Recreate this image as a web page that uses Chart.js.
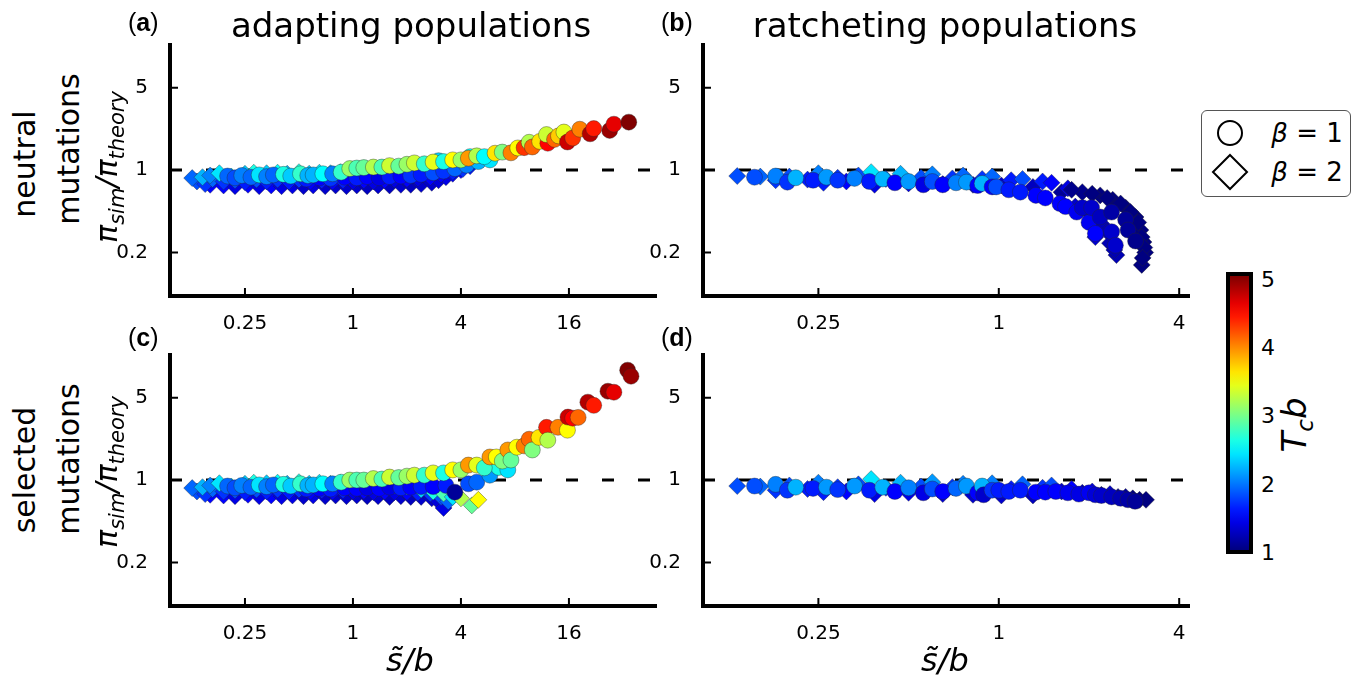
<!DOCTYPE html>
<html>
<head>
<meta charset="utf-8">
<script src="https://cdn.jsdelivr.net/npm/chart.js@4.4.1/dist/chart.umd.min.js"></script>
<style>
  body { margin: 0; width: 1359px; height: 680px; background: #fff; position: relative; overflow: hidden; font-family: "DejaVu Sans", sans-serif; }
  canvas { position: absolute; }
  .lbl { position: absolute; white-space: nowrap; line-height: 1; transform: translate(-50%, -50%); color: #000; }
  .rot { transform: translate(-50%, -50%) rotate(-90deg); }
  .tag { position: absolute; font-family: "Liberation Sans Narrow", "Liberation Sans", sans-serif; font-size: 25px; transform: translateY(-50%); }
  .big { font-size: 34px; }
  .side { font-size: 30px; }
  .pi { font-size: 30px; font-style: italic; }
  .pi sub { font-size: 21px; vertical-align: -0.35em; }
  .cbn { position: absolute; left: 1261px; font-size: 22px; transform: translateY(-50%); line-height: 1; }
</style>
</head>
<body>
<canvas id="pa" width="565" height="306" style="left:100px;top:35px"></canvas>
<canvas id="pb" width="565" height="306" style="left:633px;top:35px"></canvas>
<canvas id="pc" width="565" height="306" style="left:100px;top:345px"></canvas>
<canvas id="pd" width="565" height="306" style="left:633px;top:345px"></canvas>

<div class="tag" style="left:128px;top:22px">(<b>a</b>)</div>
<div class="tag" style="left:661px;top:22px">(<b>b</b>)</div>
<div class="tag" style="left:128px;top:337px">(<b>c</b>)</div>
<div class="tag" style="left:661px;top:337px">(<b>d</b>)</div>
<div class="lbl big" style="left:411px;top:25px">adapting populations</div>
<div class="lbl big" style="left:945px;top:25px">ratcheting populations</div>

<div class="lbl rot side" style="left:25px;top:164px">neutral</div>
<div class="lbl rot side" style="left:69px;top:149px">mutations</div>
<div class="lbl rot pi" style="left:110px;top:167px">π<sub>sim</sub>/π<sub>theory</sub></div>
<div class="lbl rot side" style="left:25px;top:470px">selected</div>
<div class="lbl rot side" style="left:69px;top:459px">mutations</div>
<div class="lbl rot pi" style="left:110px;top:472px">π<sub>sim</sub>/π<sub>theory</sub></div>

<div class="lbl" style="left:410px;top:660px;font-size:32px;font-style:italic">s&#771;/b</div>
<div class="lbl" style="left:945px;top:660px;font-size:32px;font-style:italic">s&#771;/b</div>

<div style="position:absolute;left:1201px;top:110px;width:148px;height:85px;border:1.5px solid #555;border-radius:6px"></div>
<svg style="position:absolute;left:1205px;top:112px" width="50" height="84">
  <circle cx="25" cy="21" r="12" fill="none" stroke="#000" stroke-width="2"/>
  <polygon points="25,43 42,60 25,77 8,60" fill="none" stroke="#000" stroke-width="2"/>
</svg>
<div class="lbl" style="left:1307px;top:133px;font-size:26px"><i>β</i> = 1</div>
<div class="lbl" style="left:1307px;top:172px;font-size:26px"><i>β</i> = 2</div>

<div id="cbar" style="position:absolute;left:1226px;top:272px;width:19px;height:274px;border:4px solid #000"></div>
<div class="cbn" style="top:280px">5</div>
<div class="cbn" style="top:348px">4</div>
<div class="cbn" style="top:416px">3</div>
<div class="cbn" style="top:485px">2</div>
<div class="cbn" style="top:553px">1</div>
<div class="lbl rot" style="left:1297px;top:425px;font-size:34px;font-style:italic">T<sub style="font-size:23px">c</sub>b</div>

<script>
// axis ticks
const xTicksAdapt = [0.25, 1, 4, 16];
const xTicksRatchet = [0.25, 1, 4];
const yTicks = [0.2, 1, 5];

// (a) neutral, adapting - circles (beta = 1)
const aCircX = [0.55, 0.65, 0.75, 0.90, 1.05, 1.20, 1.40, 1.60, 1.85, 2.10, 2.40, 2.80, 3.20, 3.70, 4.30, 5.00, 5.80, 3.00, 4.50,
    0.20, 0.22, 0.24, 0.27, 0.30, 0.33, 0.36, 0.41, 0.45, 0.51, 0.56, 0.60, 0.68, 0.77, 0.86, 0.96, 1.05, 1.15, 1.30, 1.45,
    1.60, 1.80, 2.00, 2.20, 2.50, 2.80, 3.20, 3.60, 4.00, 4.40, 4.90, 5.40, 6.20, 6.80, 7.60, 8.30, 9.00, 9.60, 10.0, 11.0,
    12.2, 12.0, 13.3, 14.0, 15.0, 15.7, 16.8, 18.4, 21.0, 22.0, 27.0, 28.5, 34.5];
const aCircY = [0.84, 0.86, 0.85, 0.87, 0.86, 0.88, 0.86, 0.88, 0.89, 0.90, 0.92, 0.95, 0.98, 1.03, 1.10, 1.18, 1.22, 1.20, 1.30,
    0.89, 0.86, 0.90, 0.87, 0.91, 0.88, 0.91, 0.92, 0.89, 0.93, 0.90, 0.91, 0.93, 0.93, 0.96, 1.03, 1.04, 1.05, 1.06, 1.06,
    1.09, 1.08, 1.12, 1.15, 1.13, 1.17, 1.18, 1.22, 1.22, 1.26, 1.32, 1.30, 1.39, 1.42, 1.40, 1.54, 1.55, 1.72, 1.57, 1.75,
    1.69, 2.00, 1.82, 1.95, 2.10, 1.73, 1.87, 2.22, 2.03, 2.25, 2.17, 2.45, 2.55];
const aCircT = [1.6, 1.5, 1.7, 1.5, 1.6, 1.5, 1.4, 1.6, 1.5, 1.7, 1.6, 1.8, 1.7, 1.9, 2.0, 2.2, 2.4, 2.3, 2.5,
    1.9, 1.8, 2.0, 1.9, 2.4, 2.0, 1.9, 2.6, 2.3, 2.7, 2.2, 2.2, 2.5, 2.0, 2.7, 3.1, 2.8, 2.9, 3.2, 2.8,
    3.3, 2.9, 3.1, 3.3, 2.7, 3.4, 2.6, 3.5, 3.1, 3.9, 3.2, 2.5, 3.6, 3.0, 4.0, 3.5, 4.3, 3.2, 4.1, 3.6,
    4.5, 3.3, 4.1, 3.7, 3.4, 4.7, 4.3, 4.0, 4.8, 4.4, 4.9, 4.6, 5.0];

// (a) neutral, adapting - diamonds (beta = 2)
const aDiamX = [0.16, 0.19, 0.22, 0.26, 0.30, 0.35, 0.40, 0.46, 0.53, 0.60, 0.70, 0.80, 0.92, 1.05, 1.20, 1.38, 1.60, 1.85, 2.10, 2.40, 2.75, 3.00, 3.30, 3.60, 4.00, 4.50,
    0.135, 0.15, 0.165, 0.19, 0.22, 0.25, 0.29, 0.33, 0.38, 0.44, 0.50, 0.58, 0.67, 0.77, 0.88, 1.00, 1.15, 1.30, 1.50, 1.70, 2.00, 2.30, 2.70, 3.10, 3.60, 4.10,
    0.127, 0.145, 0.16, 0.18, 0.21, 0.25, 0.28, 0.33, 0.38, 0.43, 0.50, 0.57, 0.65, 0.75, 0.85, 0.97, 1.10, 1.25, 1.45, 1.70, 2.00, 2.40];
const aDiamY = [0.75, 0.74, 0.73, 0.75, 0.73, 0.74, 0.73, 0.74, 0.73, 0.74, 0.73, 0.74, 0.73, 0.74, 0.73, 0.74, 0.74, 0.75, 0.75, 0.76, 0.78, 0.82, 0.87, 0.93, 1.00, 1.08,
    0.80, 0.76, 0.84, 0.80, 0.82, 0.79, 0.83, 0.80, 0.83, 0.80, 0.83, 0.80, 0.82, 0.80, 0.82, 0.80, 0.82, 0.80, 0.82, 0.83, 0.84, 0.85, 0.87, 0.92, 0.97, 1.02,
    0.855, 0.87, 0.90, 0.94, 0.88, 0.93, 0.95, 0.94, 0.95, 0.93, 0.96, 0.93, 0.95, 0.94, 0.96, 0.95, 0.97, 0.96, 0.98, 0.97, 1.00, 1.02];
const aDiamT = [1.5, 1.5, 1.4, 1.5, 1.4, 1.5, 1.4, 1.4, 1.3, 1.4, 1.3, 1.3, 1.3, 1.3, 1.25, 1.3, 1.25, 1.3, 1.25, 1.3, 1.3, 1.35, 1.4, 1.45, 1.5, 1.6,
    1.8, 1.7, 1.9, 1.7, 1.8, 1.6, 1.8, 1.6, 1.7, 1.6, 1.7, 1.5, 1.6, 1.5, 1.6, 1.4, 1.5, 1.4, 1.5, 1.4, 1.5, 1.4, 1.5, 1.5, 1.6, 1.7,
    1.9, 2.2, 2.0, 2.4, 2.5, 2.3, 2.6, 2.3, 2.5, 2.2, 2.6, 2.3, 2.4, 2.2, 2.5, 2.3, 2.4, 2.1, 2.3, 2.0, 2.2, 2.1];

// (b) neutral, ratcheting
const bCircX = [0.153, 0.18, 0.197, 0.21, 0.24, 0.266, 0.29, 0.33, 0.37, 0.41, 0.45, 0.50, 0.56, 0.60, 0.65, 0.72, 0.78, 0.85, 0.88, 0.95,
    0.98, 1.08, 1.18, 1.33, 1.43, 1.60, 1.67, 1.82, 1.90, 2.00, 2.04, 2.10, 2.18, 2.38, 2.38, 2.45, 2.65, 2.70, 2.86];
const bCircY = [0.87, 0.89, 0.79, 0.86, 0.82, 0.87, 0.82, 0.85, 0.80, 0.84, 0.78, 0.80, 0.75, 0.80, 0.75, 0.78, 0.79, 0.74, 0.77, 0.72,
    0.72, 0.68, 0.65, 0.61, 0.58, 0.52, 0.49, 0.44, 0.48, 0.36, 0.48, 0.29, 0.40, 0.44, 0.30, 0.23, 0.38, 0.31, 0.25];
const bCircT = [1.8, 2.0, 1.7, 2.2, 1.6, 2.1, 1.7, 2.0, 1.6, 2.2, 1.5, 2.1, 1.4, 1.8, 1.5, 2.0, 2.1, 1.5, 2.2, 1.5,
    1.8, 1.6, 1.6, 1.5, 1.5, 1.5, 1.5, 1.45, 1.3, 1.45, 1.3, 1.5, 1.25, 1.15, 1.3, 1.3, 1.1, 1.1, 1.05];
const bDiamX = [0.134, 0.16, 0.18, 0.20, 0.23, 0.25, 0.26, 0.29, 0.31, 0.34, 0.375, 0.385, 0.42, 0.47, 0.50, 0.55, 0.60, 0.65, 0.70, 0.76,
    0.82, 0.88, 0.95, 1.02, 1.10, 1.20, 1.30, 1.40, 1.50, 1.62, 1.70, 1.80, 1.90, 2.00, 2.10, 2.18, 2.40, 2.47, 2.65, 2.86,
    2.97, 3.04, 3.08, 3.00, 1.75, 2.05, 2.30, 2.55, 2.75, 2.92, 3.00, 3.06, 3.02, 2.20, 2.30, 2.35, 2.43];
const bDiamY = [0.89, 0.88, 0.82, 0.88, 0.83, 0.94, 0.78, 0.86, 0.80, 0.90, 0.96, 0.75, 0.84, 0.93, 0.77, 0.86, 0.92, 0.76, 0.85, 0.90,
    0.75, 0.84, 0.88, 0.74, 0.82, 0.84, 0.72, 0.80, 0.78, 0.65, 0.70, 0.49, 0.65, 0.43, 0.27, 0.61, 0.56, 0.19, 0.48, 0.40,
    0.31, 0.245, 0.20, 0.157, 0.68, 0.63, 0.58, 0.52, 0.44, 0.36, 0.27, 0.22, 0.18, 0.35, 0.30, 0.24, 0.21];
const bDiamT = [1.8, 1.9, 1.7, 1.8, 1.6, 2.0, 1.6, 1.7, 1.5, 1.8, 2.4, 1.4, 1.7, 2.2, 1.4, 1.8, 2.0, 1.3, 1.7, 1.9,
    1.3, 1.7, 1.9, 1.3, 1.6, 1.8, 1.25, 1.6, 1.5, 1.1, 1.4, 1.3, 1.05, 1.3, 1.3, 1.0, 1.0, 1.2, 1.0, 1.0,
    1.0, 1.0, 1.0, 1.0, 1.05, 1.0, 1.0, 1.0, 1.0, 1.0, 1.0, 1.0, 1.0, 1.25, 1.25, 1.2, 1.2];

// (c) selected, adapting
const cCircX = [0.55, 0.65, 0.75, 0.90, 1.05, 1.20, 1.40, 1.60, 1.85, 2.10, 2.40, 2.80, 3.30, 3.70, 4.40, 4.90, 5.80, 6.50, 7.30,
    0.20, 0.22, 0.24, 0.27, 0.30, 0.33, 0.36, 0.41, 0.45, 0.51, 0.56, 0.60, 0.68, 0.77, 0.86, 0.96, 1.05, 1.15, 1.30, 1.45,
    1.60, 1.80, 2.00, 2.20, 2.50, 2.80, 3.20, 3.60, 4.00, 4.40, 4.90, 5.40, 5.80, 6.30, 6.80, 7.30, 7.60, 8.20, 9.00, 9.60,
    10.0, 10.9, 12.0, 12.2, 13.9, 15.7, 15.8, 16.8, 18.0, 20.4, 22.0, 26.4, 28.5, 34.0, 35.5];
const cCircY = [0.84, 0.85, 0.84, 0.86, 0.85, 0.86, 0.85, 0.87, 0.86, 0.87, 0.88, 0.88, 0.90, 0.79, 0.93, 0.96, 1.10, 1.28, 1.22,
    0.89, 0.86, 0.90, 0.87, 0.91, 0.88, 0.91, 0.92, 0.89, 0.93, 0.90, 0.91, 0.93, 0.93, 0.96, 1.00, 1.00, 1.00, 1.03, 1.02,
    1.06, 1.05, 1.08, 1.10, 1.10, 1.15, 1.15, 1.22, 1.22, 1.34, 1.34, 1.27, 1.57, 1.57, 1.45, 1.80, 1.48, 1.90, 1.95, 2.22,
    1.80, 2.30, 2.80, 2.18, 2.80, 2.65, 3.42, 3.35, 3.40, 4.58, 4.30, 5.67, 5.56, 8.55, 7.60];
const cCircT = [1.6, 1.5, 1.6, 1.5, 1.5, 1.4, 1.5, 1.4, 1.6, 1.5, 1.6, 1.5, 1.6, 1.1, 1.8, 1.9, 2.1, 2.6, 2.4,
    1.9, 1.8, 2.0, 1.9, 2.4, 2.0, 1.9, 2.6, 2.3, 2.7, 2.2, 2.2, 2.5, 2.0, 2.7, 3.1, 2.8, 2.9, 3.2, 2.8,
    3.3, 2.9, 3.1, 3.3, 2.7, 3.4, 2.6, 3.5, 3.1, 3.9, 3.4, 2.7, 3.9, 3.5, 3.0, 3.9, 2.9, 3.5, 4.0, 4.1,
    3.0, 3.6, 4.4, 3.2, 4.0, 3.5, 4.7, 4.5, 4.1, 4.8, 4.4, 4.9, 4.6, 5.0, 4.9];
const cDiamX = [0.16, 0.19, 0.22, 0.26, 0.30, 0.35, 0.40, 0.46, 0.53, 0.60, 0.70, 0.80, 0.92, 1.05, 1.20, 1.38, 1.60, 1.85, 2.10, 2.40, 2.75, 3.00, 3.20,
    0.135, 0.15, 0.165, 0.19, 0.22, 0.25, 0.29, 0.33, 0.38, 0.44, 0.50, 0.58, 0.67, 0.77, 0.88, 1.00, 1.15, 1.30, 1.50, 1.70, 2.00, 2.30, 2.70, 3.10, 3.40,
    0.127, 0.145, 0.16, 0.18, 0.21, 0.25, 0.28, 0.33, 0.38, 0.43, 0.50, 0.57, 0.65, 0.75, 0.85, 0.97, 1.10, 1.25, 1.45, 1.70, 2.00, 2.40, 2.80, 3.20, 3.60, 4.00, 4.60, 5.00];
const cDiamY = [0.75, 0.74, 0.73, 0.75, 0.73, 0.74, 0.73, 0.74, 0.73, 0.74, 0.73, 0.74, 0.73, 0.74, 0.73, 0.73, 0.72, 0.73, 0.72, 0.72, 0.70, 0.66, 0.58,
    0.80, 0.76, 0.84, 0.80, 0.82, 0.79, 0.83, 0.80, 0.83, 0.80, 0.83, 0.80, 0.82, 0.80, 0.82, 0.80, 0.81, 0.79, 0.80, 0.79, 0.79, 0.78, 0.77, 0.72, 0.66,
    0.855, 0.87, 0.90, 0.94, 0.88, 0.93, 0.95, 0.94, 0.95, 0.93, 0.96, 0.93, 0.95, 0.93, 0.95, 0.93, 0.95, 0.92, 0.93, 0.90, 0.88, 0.83, 0.80, 0.77, 0.72, 0.70, 0.61, 0.68];
const cDiamT = [1.5, 1.5, 1.4, 1.5, 1.4, 1.5, 1.4, 1.4, 1.3, 1.4, 1.3, 1.3, 1.3, 1.3, 1.25, 1.3, 1.25, 1.3, 1.25, 1.3, 1.3, 1.35, 1.4,
    1.8, 1.7, 1.9, 1.7, 1.8, 1.6, 1.8, 1.6, 1.7, 1.6, 1.7, 1.5, 1.6, 1.5, 1.6, 1.4, 1.5, 1.4, 1.5, 1.4, 1.5, 1.6, 1.7, 1.8, 1.9,
    1.9, 2.2, 2.0, 2.4, 2.5, 2.3, 2.6, 2.3, 2.5, 2.2, 2.6, 2.3, 2.4, 2.2, 2.5, 2.3, 2.4, 2.1, 2.3, 2.0, 2.2, 2.3, 2.6, 2.8, 2.4, 3.2, 2.9, 3.5];

// (d) selected, ratcheting
const dCircX = [0.153, 0.18, 0.197, 0.21, 0.24, 0.266, 0.29, 0.33, 0.37, 0.41, 0.45, 0.50, 0.56, 0.60, 0.65, 0.72, 0.78, 0.85, 0.88, 0.89,
    0.95, 1.00, 1.08, 1.18, 1.33, 1.43, 1.55, 1.70, 1.85, 2.00, 2.10, 2.20, 2.38, 2.55, 2.70, 2.85];
const dCircY = [0.89, 0.92, 0.82, 0.87, 0.85, 0.87, 0.83, 0.89, 0.82, 0.87, 0.80, 0.86, 0.78, 0.84, 0.80, 0.85, 0.89, 0.78, 0.89, 0.75,
    0.82, 0.82, 0.80, 0.82, 0.79, 0.79, 0.80, 0.78, 0.76, 0.78, 0.75, 0.74, 0.72, 0.70, 0.68, 0.66];
const dCircT = [1.8, 2.0, 1.7, 2.2, 1.6, 2.1, 1.7, 2.1, 1.6, 2.2, 1.5, 2.0, 1.4, 1.8, 1.5, 1.9, 2.1, 1.5, 2.2, 1.3,
    1.7, 1.6, 1.6, 1.6, 1.5, 1.5, 1.5, 1.45, 1.4, 1.45, 1.35, 1.3, 1.25, 1.2, 1.15, 1.1];
const dDiamX = [0.134, 0.16, 0.18, 0.20, 0.23, 0.25, 0.26, 0.29, 0.31, 0.34, 0.375, 0.385, 0.42, 0.47, 0.50, 0.55, 0.60, 0.65, 0.70, 0.76,
    0.82, 0.88, 0.95, 1.02, 1.10, 1.20, 1.30, 1.40, 1.50, 1.62, 1.75, 1.90, 2.05, 2.20, 2.35, 2.50, 2.65, 2.80, 2.95, 3.10];
const dDiamY = [0.89, 0.88, 0.82, 0.90, 0.84, 0.95, 0.79, 0.87, 0.80, 0.92, 1.02, 0.76, 0.86, 0.95, 0.78, 0.88, 0.96, 0.76, 0.87, 0.93,
    0.75, 0.86, 0.94, 0.74, 0.84, 0.92, 0.74, 0.86, 0.90, 0.80, 0.84, 0.78, 0.80, 0.75, 0.76, 0.72, 0.72, 0.70, 0.68, 0.68];
const dDiamT = [1.8, 1.9, 1.7, 1.8, 1.6, 2.0, 1.6, 1.7, 1.5, 1.8, 2.4, 1.4, 1.7, 2.2, 1.4, 1.8, 2.1, 1.3, 1.7, 2.0,
    1.3, 1.7, 2.0, 1.3, 1.6, 1.9, 1.25, 1.7, 1.8, 1.3, 1.5, 1.2, 1.4, 1.1, 1.3, 1.05, 1.1, 1.0, 1.0, 1.0];

// jet colormap for Tc*b in [1, 5]
function jet(t) {
    const v = Math.min(1, Math.max(0, (t - 1) / 4));
    const c = f => Math.round(255 * Math.min(1, Math.max(0, f)));
    const r = c(Math.min(4 * v - 1.5, -4 * v + 4.5));
    const g = c(Math.min(4 * v - 0.5, -4 * v + 3.5));
    const b = c(Math.min(4 * v + 0.5, -4 * v + 2.5));
    return `rgb(${r},${g},${b})`;
}

// colorbar
const stops = [];
for (let i = 0; i <= 20; i++) stops.push(jet(1 + 4 * i / 20) + ' ' + (i * 5) + '%');
document.getElementById('cbar').style.background = 'linear-gradient(to top, ' + stops.join(', ') + ')';

// axes lines and inward ticks
const axesPlugin = {
    id: 'axes',
    afterDatasetsDraw(chart) {
        const { ctx, chartArea: a, scales } = chart;
        ctx.save();
        ctx.strokeStyle = '#000';
        ctx.lineWidth = 4;
        ctx.lineCap = 'square';
        ctx.beginPath();
        ctx.moveTo(a.left, a.top);
        ctx.lineTo(a.left, a.bottom);
        ctx.lineTo(a.right, a.bottom);
        ctx.stroke();
        ctx.lineWidth = 2;
        ctx.lineCap = 'butt';
        ctx.beginPath();
        scales.x.ticks.forEach(t => {
            const px = scales.x.getPixelForValue(t.value);
            ctx.moveTo(px, a.bottom);
            ctx.lineTo(px, a.bottom - 8);
        });
        scales.y.ticks.forEach(t => {
            const py = scales.y.getPixelForValue(t.value);
            ctx.moveTo(a.left, py);
            ctx.lineTo(a.left + 8, py);
        });
        ctx.stroke();
        ctx.restore();
    }
};

const toPoints = (xs, ys) => xs.map((x, i) => ({ x: x, y: ys[i] }));

function makePanel(id, xMin, xMax, xTicks, circX, circY, circT, diamX, diamY, diamT) {
    new Chart(document.getElementById(id), {
        type: 'scatter',
        data: {
            datasets: [
                {
                    data: toPoints(circX, circY),
                    pointStyle: 'circle',
                    pointRadius: 8,
                    backgroundColor: circT.map(jet),
                    borderColor: 'rgba(40,40,40,0.55)',
                    borderWidth: 0.7,
                    order: 1
                },
                {
                    data: toPoints(diamX, diamY),
                    pointStyle: 'rectRot',
                    pointRadius: 8.5,
                    backgroundColor: diamT.map(jet),
                    borderColor: 'rgba(40,40,40,0.55)',
                    borderWidth: 0.7,
                    order: 2
                },
                {
                    type: 'line',
                    data: [{ x: xMin, y: 1 }, { x: xMax, y: 1 }],
                    borderColor: '#000',
                    borderWidth: 3,
                    borderDash: [12, 24],
                    pointRadius: 0,
                    order: 3
                }
            ]
        },
        options: {
            responsive: false,
            animation: false,
            layout: { autoPadding: false, padding: { top: 10, right: 10, left: 0, bottom: 0 } },
            plugins: { legend: { display: false }, tooltip: { enabled: false } },
            scales: {
                x: {
                    type: 'logarithmic',
                    min: xMin,
                    max: xMax,
                    afterBuildTicks: s => { s.ticks = xTicks.map(v => ({ value: v })); },
                    afterFit: s => { s.height = 45; s.paddingLeft = 0; s.paddingRight = 0; s.paddingTop = 0; s.paddingBottom = 0; },
                    grid: { display: false, drawTicks: false },
                    border: { display: false },
                    ticks: {
                        autoSkip: false,
                        maxRotation: 0,
                        padding: 16,
                        color: '#000',
                        font: { family: 'DejaVu Sans', size: 20 },
                        callback: (v, i) => String(xTicks[i])
                    }
                },
                y: {
                    type: 'logarithmic',
                    min: 0.0855,
                    max: 11.5,
                    afterBuildTicks: s => { s.ticks = yTicks.map(v => ({ value: v })); },
                    afterFit: s => { s.width = 70; s.paddingLeft = 0; s.paddingRight = 0; s.paddingTop = 0; s.paddingBottom = 0; },
                    grid: { display: false, drawTicks: false },
                    border: { display: false },
                    ticks: {
                        autoSkip: false,
                        padding: 22,
                        color: '#000',
                        font: { family: 'DejaVu Sans', size: 20 },
                        callback: (v, i) => String(yTicks[i])
                    }
                }
            }
        },
        plugins: [axesPlugin]
    });
}

makePanel('pa', 0.0955, 48.3, xTicksAdapt, aCircX, aCircY, aCircT, aDiamX, aDiamY, aDiamT);
makePanel('pb', 0.103, 4.28, xTicksRatchet, bCircX, bCircY, bCircT, bDiamX, bDiamY, bDiamT);
makePanel('pc', 0.0955, 48.3, xTicksAdapt, cCircX, cCircY, cCircT, cDiamX, cDiamY, cDiamT);
makePanel('pd', 0.103, 4.28, xTicksRatchet, dCircX, dCircY, dCircT, dDiamX, dDiamY, dDiamT);
</script>
</body>
</html>
